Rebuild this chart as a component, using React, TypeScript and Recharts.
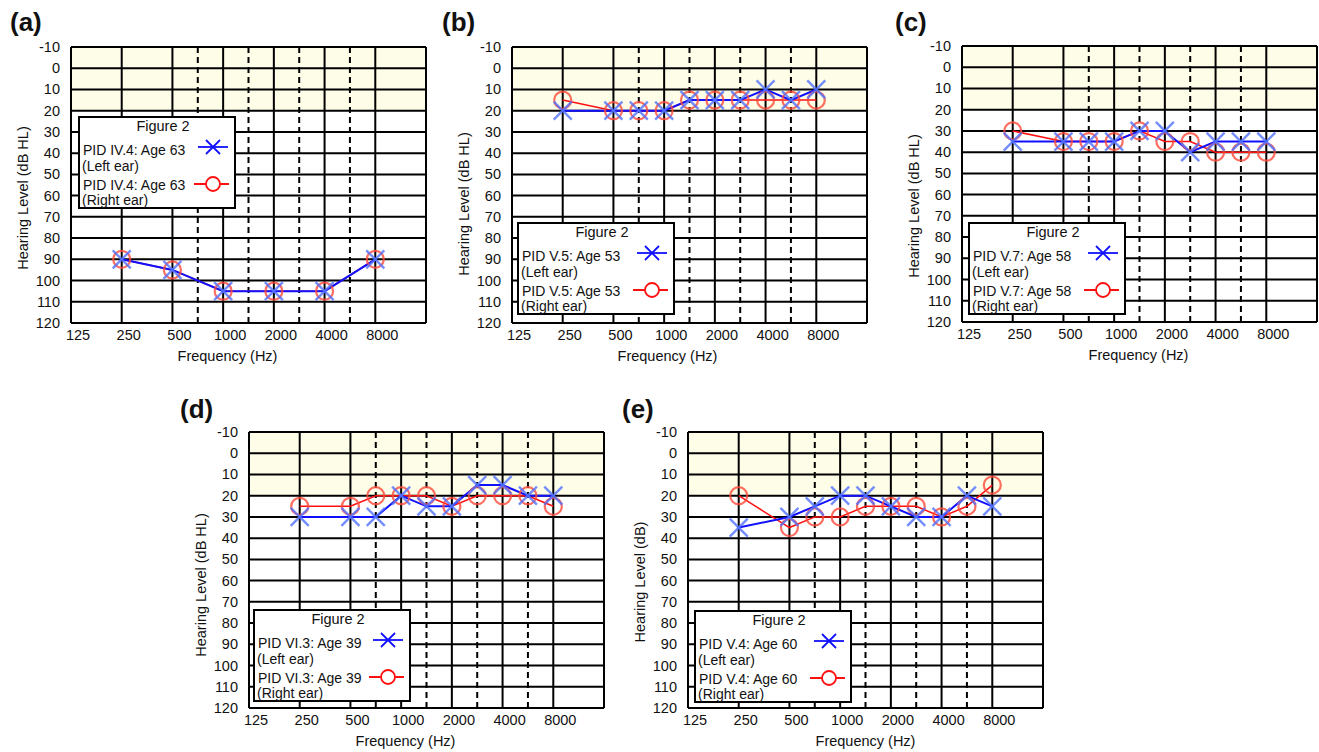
import React from "react";
import {
  CartesianGrid,
  Legend,
  Line,
  LineChart,
  ReferenceLine,
  XAxis,
  YAxis,
} from "recharts";

const FONT = '"Liberation Sans", Arial, Helvetica, sans-serif';

// x positions: octave columns on integers, inter-octave columns on the dashed lines
const xTicks = [0, 1, 2, 3, 4, 5, 6, 7];
const xTickLabels = ["125", "250", "500", "1000", "2000", "4000", "8000", ""];
const dashedColumns = [2.5, 3.5, 4.5, 5.5];
const yTicks = [-10, 0, 10, 20, 30, 40, 50, 60, 70, 80, 90, 100, 110, 120];
const NORMAL = "#fefde8";
const bandFills = [NORMAL, NORMAL, NORMAL, "#fff", "#fff", "#fff", "#fff", "#fff", "#fff", "#fff", "#fff", "#fff", "#fff"];

const freqColumn: Record<number, number> = {
  250: 1, 500: 2, 750: 2.5, 1000: 3, 1500: 3.5, 2000: 4, 3000: 4.5, 4000: 5, 6000: 5.5, 8000: 6,
};

const octaveFreqs = [250, 500, 1000, 2000, 4000, 8000];
const allFreqs = [250, 500, 750, 1000, 1500, 2000, 3000, 4000, 6000, 8000];

const aLeft = [90, 95, 105, 105, 105, 90];
const aRight = [90, 95, 105, 105, 105, 90];
const bLeft = [20, 20, 20, 20, 15, 15, 15, 10, 15, 10];
const bRight = [15, 20, 20, 20, 15, 15, 15, 15, 15, 15];
const cLeft = [35, 35, 35, 35, 30, 30, 40, 35, 35, 35];
const cRight = [30, 35, 35, 35, 30, 35, 35, 40, 40, 40];
const dLeft = [30, 30, 30, 20, 25, 25, 15, 15, 20, 20];
const dRight = [25, 25, 20, 20, 20, 25, 20, 20, 20, 25];
const eLeft = [35, 30, 25, 20, 20, 25, 30, 30, 20, 25];
const eRight = [20, 35, 30, 30, 25, 25, 25, 30, 25, 15];

const panels = [
  { tag: "(a)", tagX: 10, tagY: 9, x: 0, y: 0, freqs: octaveFreqs, left: aLeft, right: aRight,
    pid: "PID IV.4: Age 63", yTitle: "Hearing Level (dB HL)", legend: [7, 69], xTitleDx: -21, yTitleDy: 13 },
  { tag: "(b)", tagX: 442, tagY: 9, x: 441, y: 0, freqs: allFreqs, left: bLeft, right: bRight,
    pid: "PID V.5: Age 53", yTitle: "Hearing Level (dB HL)", legend: [5, 175], xTitleDx: -22, yTitleDy: 19 },
  { tag: "(c)", tagX: 895, tagY: 9, x: 891, y: -1, freqs: allFreqs, left: cLeft, right: cRight,
    pid: "PID V.7: Age 58", yTitle: "Hearing Level (dB HL)", legend: [6, 176], xTitleDx: -1, yTitleDy: 22 },
  { tag: "(d)", tagX: 180, tagY: 396, x: 178, y: 385, freqs: allFreqs, left: dLeft, right: dRight,
    pid: "PID VI.3: Age 39", yTitle: "Hearing Level (dB HL)", legend: [4, 177], xTitleDx: -21, yTitleDy: 15 },
  { tag: "(e)", tagX: 622, tagY: 396, x: 617, y: 385, freqs: allFreqs, left: eLeft, right: eRight,
    pid: "PID V.4: Age 60", yTitle: "Hearing Level (dB)", legend: [6, 178], xTitleDx: 0, yTitleDy: 12 },
];

const BLUE = "#1010ff";
const RED = "#ff1010";

function CrossDot(props: any) {
  const { cx, cy } = props;
  if (cx == null || cy == null) return null;
  const s = 9;
  return (
    <g stroke="#5070ff" strokeWidth={2.4} strokeOpacity={0.8}>
      <line x1={cx - s} y1={cy - s} x2={cx + s} y2={cy + s} />
      <line x1={cx - s} y1={cy + s} x2={cx + s} y2={cy - s} />
    </g>
  );
}

function CircleDot(props: any) {
  const { cx, cy } = props;
  if (cx == null || cy == null) return null;
  return <circle cx={cx} cy={cy} r={8.5} fill="none" stroke="#ff4a38" strokeWidth={2.2} strokeOpacity={0.8} />;
}

function XTick({ x, y, payload }: any) {
  return (
    <text x={x + 7} y={y + 9} textAnchor="middle" fontSize={14.5} fontFamily={FONT} fill="#111">
      {xTickLabels[xTicks.indexOf(payload.value)]}
    </text>
  );
}

function YTick({ x, y, payload }: any) {
  return (
    <text x={x - 3} y={y + 5} textAnchor="end" fontSize={14.5} fontFamily={FONT} fill="#111">
      {payload.value}
    </text>
  );
}

function LegendBox({ payload }: any) {
  const items = [...(payload || [])].sort((p, q) => (p.dataKey === "left" ? -1 : 1) - (q.dataKey === "left" ? -1 : 1));
  const rows = [
    { base: 39, ear: 55, symY: 31 },
    { base: 74, ear: 89, symY: 68 },
  ];
  return (
    <svg width={158} height={93} style={{ display: "block" }}>
      <rect x={1} y={1} width={156} height={91} fill="#fff" stroke="#000" strokeWidth={2} />
      <text x={85} y={15} textAnchor="middle" fontSize={14.5} fontFamily={FONT} fill="#111">Figure 2</text>
      {items.map((it: any, i: number) => {
        const r = rows[i];
        const isLeft = it.dataKey === "left";
        return (
          <g key={it.dataKey}>
            <text x={5} y={r.base} fontSize={14} fontFamily={FONT} fill="#111">{it.value}</text>
            <text x={4} y={r.ear} fontSize={14} fontFamily={FONT} fill="#111">
              {isLeft ? "(Left ear)" : "(Right ear)"}
            </text>
            {isLeft ? (
              <g stroke={BLUE} strokeWidth={1.8}>
                <line x1={120} y1={r.symY} x2={150} y2={r.symY} />
                <line x1={128} y1={r.symY - 7} x2={142} y2={r.symY + 7} />
                <line x1={128} y1={r.symY + 7} x2={142} y2={r.symY - 7} />
              </g>
            ) : (
              <g stroke={RED} strokeWidth={1.8} fill="none">
                <line x1={116} y1={r.symY} x2={151} y2={r.symY} />
                <circle cx={135} cy={r.symY} r={7} fill="#fff" />
              </g>
            )}
          </g>
        );
      })}
    </svg>
  );
}

function Audiogram({ p }: { p: (typeof panels)[number] }) {
  const data = p.freqs.map((f, i) => ({ col: freqColumn[f], freq: f, left: p.left[i], right: p.right[i] }));
  return (
    <div style={{ position: "absolute", left: p.x, top: p.y }}>
      <LineChart width={440} height={370} data={data} margin={{ top: 47, right: 14, bottom: 0, left: 0 }}>
        <CartesianGrid stroke="#000" strokeWidth={2} horizontalFill={bandFills} fillOpacity={1} />
        {dashedColumns.map((c) => (
          <ReferenceLine key={c} x={c} stroke="#000" strokeWidth={2} strokeDasharray="6 4" />
        ))}
        <XAxis
          type="number"
          dataKey="col"
          domain={[0, 7]}
          ticks={xTicks}
          interval={0}
          height={47}
          axisLine={false}
          tickLine={false}
          tick={<XTick />}
          label={(lp: any) => {
            const vb = lp.viewBox;
            return (
              <text x={vb.x + vb.width / 2 + p.xTitleDx} y={vb.y + 38} textAnchor="middle" fontSize={14.5} fontFamily={FONT} fill="#111">
                Frequency (Hz)
              </text>
            );
          }}
        />
        <YAxis
          type="number"
          domain={[-10, 120]}
          ticks={yTicks}
          interval={0}
          reversed
          width={71}
          axisLine={false}
          tickLine={false}
          tick={<YTick />}
          label={(lp: any) => {
            const vb = lp.viewBox;
            const cx = vb.x + vb.width - 48;
            const cy = vb.y + vb.height / 2 + p.yTitleDy;
            return (
              <text x={cx} y={cy} transform={`rotate(-90, ${cx}, ${cy})`} textAnchor="middle" dominantBaseline="central" fontSize={14.5} fontFamily={FONT} fill="#111">
                {p.yTitle}
              </text>
            );
          }}
        />
        <Line type="linear" dataKey="right" name={p.pid} stroke={RED} strokeWidth={1.5} dot={<CircleDot />} activeDot={false} isAnimationActive={false} />
        <Line type="linear" dataKey="left" name={p.pid} stroke={BLUE} strokeWidth={2} dot={<CrossDot />} activeDot={false} isAnimationActive={false} />
        <Legend
          layout="horizontal"
          verticalAlign="middle"
          align="center"
          content={(lp: any) => <LegendBox payload={lp.payload} />}
          wrapperStyle={{ left: 71 + p.legend[0], top: 47 + p.legend[1], width: 158, height: 93 }}
        />
      </LineChart>
    </div>
  );
}

export default function App() {
  return (
    <div style={{ position: "absolute", left: 0, top: 0, width: 1319, height: 752, background: "#fff", overflow: "hidden", fontFamily: FONT }}>
      {panels.map((p) => (
        <React.Fragment key={p.tag}>
          <Audiogram p={p} />
          <div style={{ position: "absolute", left: p.tagX, top: p.tagY, fontSize: 26, lineHeight: "26px", fontWeight: 700, color: "#111" }}>
            {p.tag}
          </div>
        </React.Fragment>
      ))}
    </div>
  );
}
